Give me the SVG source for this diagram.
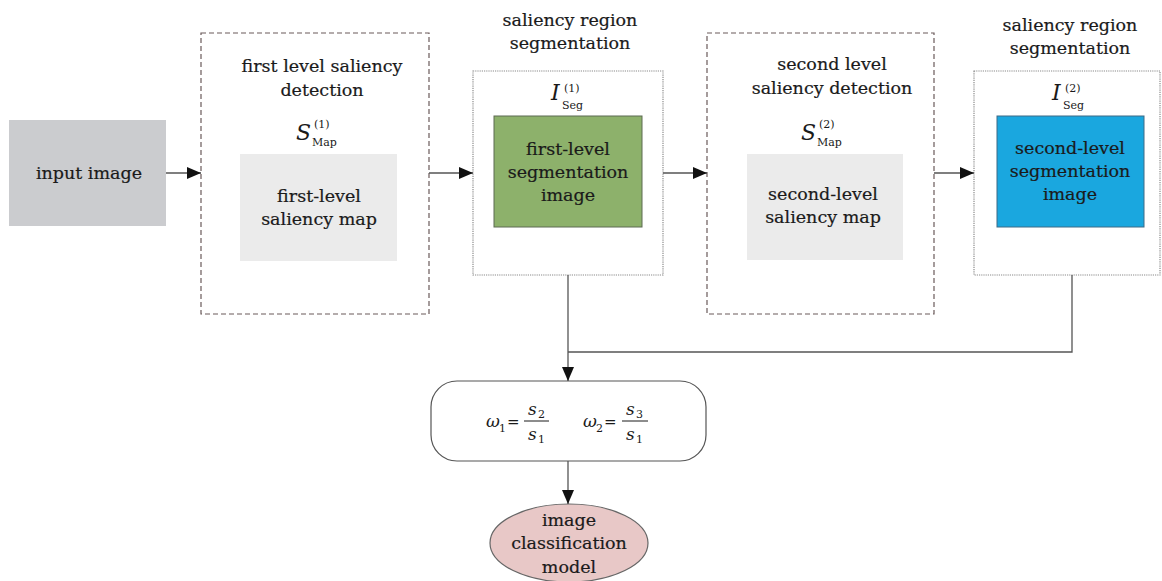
<svg xmlns="http://www.w3.org/2000/svg" width="1162" height="581" viewBox="0 0 1162 581">
<defs>
<marker id="ah" markerUnits="userSpaceOnUse" markerWidth="14" markerHeight="12" refX="14" refY="6" orient="auto">
<path d="M0,0 L14,6 L0,12 z" fill="#111"/>
</marker>
<style>
.t{font-family:"DejaVu Serif","Liberation Serif",serif;font-size:17.5px;fill:#1a1a1a;stroke:#1a1a1a;stroke-width:0.2;text-anchor:middle}
.m{font-family:"DejaVu Serif","Liberation Serif",serif;font-style:italic;fill:#1a1a1a}
.s{font-family:"DejaVu Serif","Liberation Serif",serif;font-size:11px;fill:#1a1a1a}
.dash{fill:#fff;stroke:#6a5a5a;stroke-width:1.2;stroke-dasharray:5,3}
.dot{fill:#fff;stroke:#8a8a8a;stroke-width:1.2;stroke-dasharray:1.2,1}
.c{fill:none;stroke:#555;stroke-width:1.3}
</style>
</defs>
<rect width="1162" height="581" fill="#fff"/>

<g id="input">
<rect x="9" y="120" width="157" height="106" fill="#cbcccf"/>
<text class="t" x="89" y="179">input image</text>
</g>

<g id="level1">
<rect class="dash" x="201" y="33" width="228" height="281"/>
<text class="t" x="322" y="72">first level saliency</text>
<text class="t" x="322" y="96">detection</text>
<text class="m" x="296" y="140" font-size="22">S</text>
<text class="s" x="312" y="146">Map</text>
<text class="s" x="314" y="128">(1)</text>
<rect x="240" y="154" width="157" height="107" fill="#ebebeb"/>
<text class="t" x="319" y="202">first-level</text>
<text class="t" x="319" y="225">saliency map</text>
</g>

<g id="seg1">
<text class="t" x="570" y="26">saliency region</text>
<text class="t" x="570" y="49">segmentation</text>
<rect class="dot" x="473" y="71" width="190" height="204"/>
<text class="m" x="551" y="100" font-size="22">I</text>
<text class="s" x="562" y="109">Seg</text>
<text class="s" x="564" y="92">(1)</text>
<rect x="494" y="116" width="148" height="111" fill="#8db16b" stroke="#5d6a52" stroke-width="1"/>
<text class="t" x="568" y="155">first-level</text>
<text class="t" x="568" y="178">segmentation</text>
<text class="t" x="568" y="201">image</text>
</g>

<g id="level2">
<rect class="dash" x="707" y="33" width="227" height="281"/>
<text class="t" x="832" y="70">second level</text>
<text class="t" x="832" y="94">saliency detection</text>
<text class="m" x="801" y="140" font-size="22">S</text>
<text class="s" x="817" y="146">Map</text>
<text class="s" x="819" y="128">(2)</text>
<rect x="747" y="154" width="156" height="106" fill="#ebebeb"/>
<text class="t" x="823" y="200">second-level</text>
<text class="t" x="823" y="223">saliency map</text>
</g>

<g id="seg2">
<text class="t" x="1070" y="31">saliency region</text>
<text class="t" x="1070" y="54">segmentation</text>
<rect class="dot" x="974" y="71" width="186" height="204"/>
<text class="m" x="1052" y="100" font-size="22">I</text>
<text class="s" x="1063" y="109">Seg</text>
<text class="s" x="1065" y="92">(2)</text>
<rect x="997" y="116" width="147" height="111" fill="#1aa7df" stroke="#3d6a86" stroke-width="1"/>
<text class="t" x="1070" y="154">second-level</text>
<text class="t" x="1070" y="177">segmentation</text>
<text class="t" x="1070" y="200">image</text>
</g>

<g id="weights">
<rect x="431" y="381" width="275" height="80" rx="26" ry="26" fill="#fff" stroke="#555" stroke-width="1.2"/>
<text class="m" x="486" y="427" font-size="17">ω</text>
<text class="s" x="499" y="432" font-size="9">1</text>
<text x="507" y="427" font-family="DejaVu Serif,serif" font-size="15" fill="#1a1a1a">=</text>
<line x1="524" y1="421" x2="549" y2="421" stroke="#1a1a1a" stroke-width="1"/>
<text class="m" x="528" y="415" font-size="17">s</text>
<text class="s" x="538" y="418" font-size="9">2</text>
<text class="m" x="528" y="440" font-size="17">s</text>
<text class="s" x="538" y="443" font-size="9">1</text>
<text class="m" x="583" y="427" font-size="17">ω</text>
<text class="s" x="596" y="432" font-size="9">2</text>
<text x="604" y="427" font-family="DejaVu Serif,serif" font-size="15" fill="#1a1a1a">=</text>
<line x1="622" y1="421" x2="648" y2="421" stroke="#1a1a1a" stroke-width="1"/>
<text class="m" x="626" y="415" font-size="17">s</text>
<text class="s" x="636" y="418" font-size="9">3</text>
<text class="m" x="626" y="440" font-size="17">s</text>
<text class="s" x="636" y="443" font-size="9">1</text>
</g>

<g id="model">
<ellipse cx="569" cy="543" rx="79" ry="39" fill="#e8c8c7" stroke="#666" stroke-width="1.2"/>
<text class="t" x="569" y="526">image</text>
<text class="t" x="569" y="549">classification</text>
<text class="t" x="569" y="573">model</text>
</g>

<g id="connectors">
<line class="c" x1="166" y1="173" x2="201" y2="173" marker-end="url(#ah)"/>
<line class="c" x1="429" y1="173" x2="473" y2="173" marker-end="url(#ah)"/>
<line class="c" x1="663" y1="173" x2="707" y2="173" marker-end="url(#ah)"/>
<line class="c" x1="934" y1="173" x2="974" y2="173" marker-end="url(#ah)"/>
<line class="c" x1="568" y1="275" x2="568" y2="381" marker-end="url(#ah)"/>
<polyline class="c" points="1072,275 1072,352 568,352"/>
<line class="c" x1="568" y1="461" x2="568" y2="504" marker-end="url(#ah)"/>
</g>
</svg>
